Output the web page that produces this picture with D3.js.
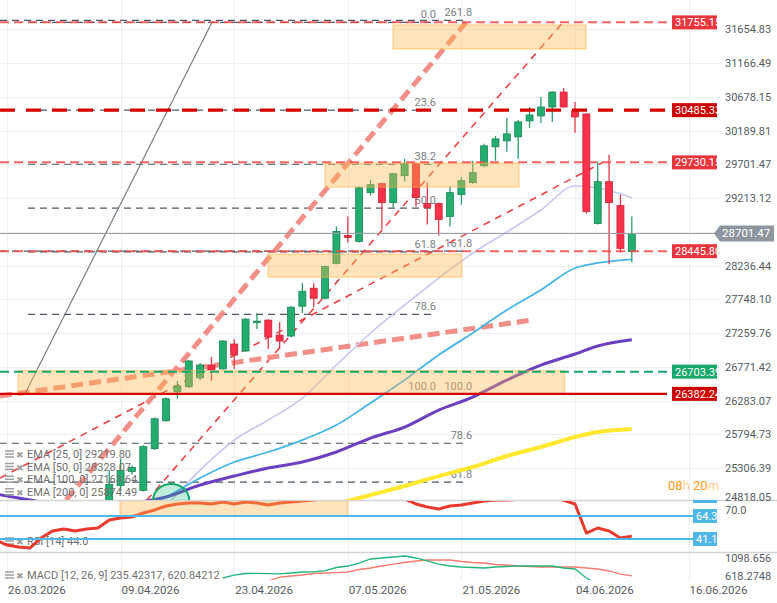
<!DOCTYPE html>
<html>
<head>
<meta charset="utf-8">
<title>DAX daily</title>
<script src="https://cdn.jsdelivr.net/npm/d3@7"></script>
<style>
  body { margin: 0; background: #ffffff; }
  text { font-family: Roboto, "Noto Sans", sans-serif; }
</style>
</head>
<body>
<svg id="drawing_region"></svg>
<script>
// ---------- data ----------
const firstBar = 9;   // bar index of the first visible candle
const opens  = [24800, 25057, 25259, 24985, 25590, 25993, 26412, 26484, 26613, 26800, 26743, 27103, 27002, 27420, 27449, 27232,
                27218, 27650, 27910, 27765, 28270, 28673, 28587, 29292, 29422, 29148, 29537, 29710, 29134, 29134, 28947, 29263,
                29436, 29681, 29955, 30041, 30099, 30330, 30402, 30531, 30747, 30473, 30430, 28846, 29451, 29105, 28440];
const highs  = [25274, 25446, 25346, 25640, 26040, 26330, 26570, 26870, 26830, 26915, 27160, 27175, 27480, 27549, 27460, 27420,
                27650, 27982, 27982, 28240, 28802, 28947, 29380, 29480, 29430, 29580, 29782, 29730, 29440, 29150, 29393, 29520,
                29753, 30000, 30114, 30373, 30344, 30531, 30675, 30760, 30805, 30603, 30440, 29739, 29840, 29263, 28947];
const lows   = [24800, 24971, 25216, 24971, 25570, 25979, 26311, 26470, 26580, 26570, 26730, 26743, 26990, 27319, 27031, 27031,
                27200, 27550, 27636, 27750, 28255, 28572, 28570, 29250, 28759, 29076, 29451, 29090, 28831, 28673, 28802, 29119,
                29420, 29660, 29753, 29883, 29782, 30229, 30301, 30315, 30520, 30157, 28990, 28830, 28255, 28428, 28284];
const closes = [25072, 25274, 25317, 25619, 26022, 26311, 26498, 26858, 26800, 26728, 27146, 26944, 27463, 27434, 27204, 27146,
                27636, 27866, 27765, 28226, 28731, 28644, 29364, 29407, 29148, 29566, 29710, 29220, 29076, 28903, 29292, 29465,
                29581, 29969, 30070, 30142, 30315, 30416, 30531, 30747, 30531, 30387, 29019, 29451, 29148, 28486, 28701.47];
const lastPrice = 28701.47;

const dateIdx    = [0, 10, 20, 30, 40, 50, 60];
const dateLabels = ['26.03.2026', '09.04.2026', '23.04.2026', '07.05.2026', '21.05.2026', '04.06.2026', '16.06.2026'];
const priceTicks = [31654.83, 31166.49, 30678.15, 30189.81, 29701.47, 29213.12, 28724.78, 28236.44,
                    27748.10, 27259.76, 26771.42, 26283.07, 25794.73, 25306.39, 24818.05];

// moving averages, sampled at these bar indices
const emaIdx = [-1, 2, 5, 8, 11, 14, 17, 20, 23, 26, 29, 32, 35, 38, 41, 44, 47, 50, 52, 55];
const ema25  = [null, null, null, null, 24400, 24774, 25280, 25714, 26004, 26322, 26799, 27262, 27667, 28057, 28419, 28723, 29041, 29388, 29359, 29219.80];
const ema50  = [null, null, null, null, 24702, 24890, 25165, 25396, 25541, 25714, 25931, 26249, 26582, 26944, 27262, 27595, 27884, 28202, 28275, 28328.07];
const ema100 = [24933, 24846, 24774, 24774, 24803, 24890, 25063, 25193, 25309, 25396, 25541, 25743, 25902, 26148, 26336, 26582, 26799, 26958, 27074, 27163.64];
const ema200 = [null, null, null, null, null, null, null, null, 24528, 24643, 24788, 24919, 25049, 25193, 25324, 25483, 25613, 25758, 25830, 25874.49];
const emaNames = ['EMA [25, 0] 29219.80', 'EMA [50, 0] 28328.07', 'EMA [100, 0] 27163.64', 'EMA [200, 0] 25874.49'];

// horizontal price levels
const levelValues = [31755.15, 30485.33, 29730.15, 28445.80, 26703.39, 26382.24];
const levelKinds  = ['red', 'bold', 'red', 'red', 'green', 'solid'];

// fibonacci drawings: price at 0 and at 100, levels, bar span
const fibA = { p0: 31755.15, p100: 26382.24, levels: [0, 23.6, 38.2, 50, 61.8, 78.6, 100], from: 1.85, to: 37.76 };
const fibB = { p0: 23043.2, p100: 26382.24, levels: [61.8, 78.6, 100, 161.8, 261.8], from: -0.62, to: 40.5 };

// trend lines (bar index / price at both ends)
const trendFromIdx   = [-0.62, 12.32, 5.2, -0.62, 1.58];
const trendFromPrice = [25164, 24846, 24846, 26351, 26382.24];
const trendToIdx     = [52.46, 48.94, 40.4, 46.2, 18.05];
const trendToPrice   = [29730.15, 31755.15, 31755.15, 27450, 31755.15];
const trendKinds     = ['thin', 'thin', 'thick', 'thick', 'gray'];

// zones (bar index / price)
const zoneFromIdx = [33.98, 27.99, 22.98, 0.97];
const zoneToIdx   = [50.97, 45.07, 40.05, 49.1];
const zoneTop     = [31717, 29720, 28404, 26717];
const zoneBottom  = [31370, 29373, 28071, 26387];

// RSI [14]
const rsiStart = -1;
const rsi = [40.1, 35.0, 33.0, 32.0, 42.1, 49.2, 51.2, 49.2, 51.2, 52.2, 60.3, 62.3, 63.3, 67.3, 70.4, 74.4, 76.4, 77.4, 77.4, 76.4,
             78.4, 76.4, 78.4, 77.4, 75.4, 77.4, 78.4, 79.4, 80.5, 82, 84, 82, 85, 86, 82, 84, 81.5, 76.4, 73.4, 71.4,
             74.4, 75.4, 77.4, 79.4, 80.4, 80.5, 81, 82, 83, 84, 80, 76.4, 47.1, 52.2, 49.2, 42.1, 44.0];
const rsiLevels = [64.3, 41.1];

// MACD [12, 26, 9]
const macdStart = 19;
const macd = [565, 640, 685, 690, 680, 675, 698, 725, 730, 760, 845, 885, 965, 1072, 1099, 1125, 1152, 1099, 1019,
              938, 885, 858, 845, 832, 858, 872, 885, 885, 885, 885, 832, 805, 565, 404, 244, 137, 235];
const signalStart = 21;
const signal = [360, 431, 484, 591, 618, 645, 685, 698, 711, 725, 792, 832, 885, 938, 979, 1019, 1045, 1045, 1045,
                1005, 979, 965, 925, 912, 885, 872, 858, 858, 858, 858, 832, 805, 752, 671, 621];

// ---------- chart ----------
const width = 777, height = 603;
const svg = d3.select('#drawing_region').attr('width', width).attr('height', height);

const x = d3.scaleLinear().domain([0, 50]).range([7, 575]);
const y = d3.scaleLinear().domain([26283.07, 31654.83]).range([400.7, 29.3]);
const yRsi = d3.scaleLinear().domain([41.1, 64.3]).range([539, 516]);
const yMacd = d3.scaleLinear().domain([618.2748, 1098.656]).range([576, 558]);

const defs = svg.append('defs');
function addClip(id, x0, y0, w, h) {
    defs.append('clipPath').attr('id', id)
        .append('rect').attr('x', x0).attr('y', y0).attr('width', w).attr('height', h);
}
addClip('c-main', 0, 0, 720, 500);
addClip('c-rsi', 0, 501, 720, 51);
addClip('c-macd', 0, 553, 720, 27);
addClip('c-tag', 0, 0, 717, 603);

// grid
const grid = svg.append('g').attr('stroke', '#efefef').attr('stroke-width', 1);
grid.selectAll('.vg').data(dateIdx).join('line')
    .attr('x1', d => Math.round(x(d)) + .5).attr('x2', d => Math.round(x(d)) + .5)
    .attr('y1', 0).attr('y2', 581);
grid.selectAll('.hg').data(priceTicks.filter(d => y(d) < 499)).join('line')
    .attr('x1', 0).attr('x2', 720)
    .attr('y1', d => Math.round(y(d)) + .5).attr('y2', d => Math.round(y(d)) + .5);

// panel separators
svg.selectAll('.sep').data([500.5, 552.5]).join('line')
    .attr('x1', 0).attr('x2', width).attr('y1', d => d).attr('y2', d => d)
    .attr('stroke', '#d4d4d4').attr('stroke-width', 1.5);

const main = svg.append('g').attr('clip-path', 'url(#c-main)');

// legend (sits under the candles)
const legend = svg.append('g');
function legendRow(g, yy, label) {
    g.append('path').attr('d', `M5,${yy-7}h9M5,${yy-4}h9M5,${yy-1}h9`)
        .attr('stroke', '#a0a0a0').attr('stroke-width', 1.5);
    g.append('text').attr('x', 16).attr('y', yy).attr('font-size', 9).attr('fill', '#a0a0a0').text('✖');
    g.append('text').attr('x', 27).attr('y', yy).attr('font-size', 11).attr('fill', '#707070').text(label);
}
emaNames.forEach((n, k) => legendRow(legend, 458 + k * 12.6, n));
legendRow(legend, 545, 'RSI [14] 44.0');
legendRow(legend, 579, 'MACD [12, 26, 9] 235.42317, 620.84212');

// fibonacci levels
function fibPrice(f, L) { return f.p0 + (f.p100 - f.p0) * L / 100; }
[fibA, fibB].forEach((f, k) => {
    const g = main.append('g');
    g.selectAll('line').data(f.levels).join('line')
        .attr('x1', x(f.from)).attr('x2', x(f.to))
        .attr('y1', L => y(fibPrice(f, L))).attr('y2', L => y(fibPrice(f, L)))
        .attr('stroke', '#4b5864').attr('stroke-width', 1.2).attr('stroke-dasharray', '7,5');
    g.selectAll('text').data(f.levels).join('text')
        .attr('x', x(f.to) + (k === 0 ? 0 : 5)).attr('y', L => y(fibPrice(f, L)) - 4)
        .attr('text-anchor', 'end').attr('font-size', 11).attr('fill', '#7a8088')
        .text(L => L.toFixed(1));
});

// price levels
const levelStyle = {
    red:   { stroke: '#ef4a4a', width: 2,   dash: '9,5',  opacity: 0.85, tag: '#e8363c' },
    bold:  { stroke: '#d50000', width: 3.3, dash: '15,11', opacity: 1,   tag: '#cc0000' },
    green: { stroke: '#14a86c', width: 2,   dash: '9,5',  opacity: 1,    tag: '#17a86b' },
    solid: { stroke: '#d50000', width: 2.2, dash: null,   opacity: 1,    tag: '#cc0000' }
};
svg.append('g').selectAll('line').data(levelValues).join('line')
    .attr('x1', 0).attr('x2', 667)
    .attr('y1', d => y(d)).attr('y2', d => y(d))
    .attr('stroke', (d, k) => levelStyle[levelKinds[k]].stroke)
    .attr('stroke-width', (d, k) => levelStyle[levelKinds[k]].width)
    .attr('stroke-dasharray', (d, k) => levelStyle[levelKinds[k]].dash)
    .attr('opacity', (d, k) => levelStyle[levelKinds[k]].opacity);

// trend lines
const trendStyle = {
    thin:  { stroke: '#e8383d', width: 1.6, dash: '7,6', opacity: 0.95 },
    thick: { stroke: '#f28a82', width: 5,   dash: '12,6', opacity: 0.95 },
    gray:  { stroke: '#6f757c', width: 1.1, dash: null, opacity: 1 }
};
main.append('g').selectAll('line').data(trendKinds).join('line')
    .attr('x1', (d, k) => x(trendFromIdx[k])).attr('y1', (d, k) => y(trendFromPrice[k]))
    .attr('x2', (d, k) => x(trendToIdx[k])).attr('y2', (d, k) => y(trendToPrice[k]))
    .attr('stroke', d => trendStyle[d].stroke).attr('stroke-width', d => trendStyle[d].width)
    .attr('stroke-dasharray', d => trendStyle[d].dash).attr('opacity', d => trendStyle[d].opacity);

// EMAs
const emaColors = ['#c7c6ee', '#45b4ea', '#6a3fc0', '#ffe82e'];
const emaWidths = [1.6, 1.8, 3, 4];
const emaLine = d3.line().defined(d => d[1] !== null).x(d => x(d[0])).y(d => y(d[1])).curve(d3.curveMonotoneX);
[ema25, ema50, ema100, ema200].forEach((s, k) => {
    main.append('path').datum(emaIdx.map((i, j) => [i, s[j]]))
        .attr('d', emaLine).attr('fill', 'none')
        .attr('stroke', emaColors[k]).attr('stroke-width', emaWidths[k]);
});

// current price line
svg.append('line').attr('x1', 0).attr('x2', 715).attr('y1', y(lastPrice)).attr('y2', y(lastPrice))
    .attr('stroke', '#9aa1a8').attr('stroke-width', 1.2);

// candles
const candles = main.append('g').selectAll('g').data(opens.map((o, k) => k)).join('g');
const isUp = k => closes[k] >= opens[k];
candles.append('line')
    .attr('x1', k => x(firstBar + k)).attr('x2', k => x(firstBar + k))
    .attr('y1', k => y(highs[k])).attr('y2', k => y(lows[k]))
    .attr('stroke', k => isUp(k) ? '#2a9d69' : '#e0394b').attr('stroke-width', 1.3);
candles.append('rect')
    .attr('x', k => x(firstBar + k) - 3.5).attr('width', 7)
    .attr('y', k => y(Math.max(opens[k], closes[k])))
    .attr('height', k => Math.max(1.5, Math.abs(y(opens[k]) - y(closes[k]))))
    .attr('fill', k => isUp(k) ? '#24ad70' : '#ff3049')
    .attr('stroke', k => isUp(k) ? '#1b8655' : '#c42637').attr('stroke-width', 0.8);

// zones
main.append('g').selectAll('rect').data(zoneTop).join('rect')
    .attr('x', (d, k) => x(zoneFromIdx[k])).attr('width', (d, k) => x(zoneToIdx[k]) - x(zoneFromIdx[k]))
    .attr('y', d => y(d)).attr('height', (d, k) => y(zoneBottom[k]) - y(d))
    .attr('fill', '#ffb74d').attr('fill-opacity', 0.38)
    .attr('stroke', '#ffb74d').attr('stroke-opacity', 0.7);

// green half circle
main.append('ellipse').attr('cx', x(14.45)).attr('cy', y(24846)).attr('rx', 18).attr('ry', 16)
    .attr('fill', '#2fc48a').attr('fill-opacity', 0.3).attr('stroke', '#16a86a').attr('stroke-width', 2);

// level tags
const tags = svg.append('g').attr('clip-path', 'url(#c-tag)');
levelValues.forEach((v, k) => {
    const st = levelStyle[levelKinds[k]];
    tags.append('rect').attr('x', 672).attr('y', y(v) - 7).attr('width', 48).attr('height', 14).attr('fill', st.tag);
    tags.append('text').attr('x', 675).attr('y', y(v) + 4).attr('font-size', 11).attr('fill', '#ffffff').text(v.toFixed(2));
});

// right axis (the tick hidden behind the last price tag is left out)
const ly = y(lastPrice);
svg.append('g').selectAll('text').data(priceTicks.filter(d => Math.abs(y(d) - ly) > 12)).join('text')
    .attr('x', 725).attr('y', d => Math.min(y(d), 497) + 4)
    .attr('font-size', 11).attr('fill', '#555b61').text(d => d.toFixed(2));

// last price tag
svg.append('path').attr('d', `M714,${ly}L720,${ly-8}H774V${ly+8}H720Z`).attr('fill', '#8d969e');
svg.append('text').attr('x', 722).attr('y', ly + 4).attr('font-size', 11.5).attr('fill', '#ffffff').text(lastPrice.toFixed(2));

// countdown
const cd = svg.append('text').attr('x', 668).attr('y', 490).attr('font-size', 13);
cd.append('tspan').attr('fill', '#ff9a1a').text('08');
cd.append('tspan').attr('fill', '#ffcf8a').text('h ');
cd.append('tspan').attr('fill', '#ff9a1a').text('20');
cd.append('tspan').attr('fill', '#ffcf8a').text('m');

// ---------- RSI ----------
const rsiG = svg.append('g').attr('clip-path', 'url(#c-rsi)');
svg.append('g').selectAll('line').data(rsiLevels).join('line')
    .attr('x1', 0).attr('x2', 693).attr('y1', d => yRsi(d)).attr('y2', d => yRsi(d))
    .attr('stroke', '#4fb6ea').attr('stroke-width', 2);
rsiG.append('path').datum(rsi)
    .attr('d', d3.line().x((d, k) => x(rsiStart + k)).y(d => yRsi(d)))
    .attr('fill', 'none').attr('stroke', '#e8392e').attr('stroke-width', 3).attr('stroke-linejoin', 'round');
rsiG.append('rect').attr('x', x(9.95)).attr('width', x(30) - x(9.95))
    .attr('y', yRsi(80.4)).attr('height', yRsi(64.3) - yRsi(80.4))
    .attr('fill', '#ffb74d').attr('fill-opacity', 0.38).attr('stroke', '#ffb74d').attr('stroke-opacity', 0.7);
svg.append('rect').attr('x', 693).attr('y', 500).attr('width', 24).attr('height', 3).attr('fill', '#4fb6ea');
rsiLevels.forEach(v => {
    svg.append('rect').attr('x', 693).attr('y', yRsi(v) - 7).attr('width', 24).attr('height', 14).attr('fill', '#4fb6ea');
    svg.append('text').attr('x', 696).attr('y', yRsi(v) + 4).attr('font-size', 11).attr('fill', '#ffffff').text(v.toFixed(1));
});
svg.append('text').attr('x', 725).attr('y', yRsi(70) + 4).attr('font-size', 11).attr('fill', '#555b61').text('70.0');

// ---------- MACD ----------
const macdG = svg.append('g').attr('clip-path', 'url(#c-macd)');
macdG.append('path').datum(signal)
    .attr('d', d3.line().x((d, k) => x(signalStart + k)).y(d => yMacd(d)))
    .attr('fill', 'none').attr('stroke', '#f47a70').attr('stroke-width', 1.3);
macdG.append('path').datum(macd)
    .attr('d', d3.line().x((d, k) => x(macdStart + k)).y(d => yMacd(d)))
    .attr('fill', 'none').attr('stroke', '#22b57a').attr('stroke-width', 1.3);
svg.append('g').selectAll('text').data([1098.656, 618.2748]).join('text')
    .attr('x', 725).attr('y', d => yMacd(d) + 4)
    .attr('font-size', 11).attr('fill', '#555b61').text(d => d);

// ---------- dates ----------
svg.append('g').selectAll('text').data(dateIdx).join('text')
    .attr('x', d => x(d) + 1).attr('y', 594)
    .attr('font-size', 11.5).attr('fill', '#555b61')
    .text((d, k) => dateLabels[k]);
</script>
</body>
</html>
